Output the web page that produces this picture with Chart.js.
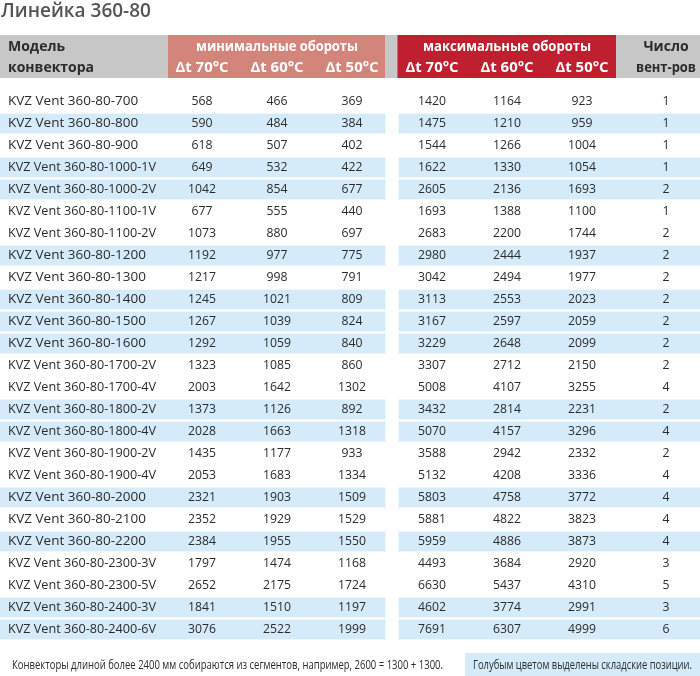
<!DOCTYPE html>
<html>
<head>
<meta charset="utf-8">
<script src="https://cdn.jsdelivr.net/npm/chart.js@4.4.1/dist/chart.umd.min.js"></script>
<style>
html,body{margin:0;padding:0;background:#fff;}
#wrap{position:relative;width:700px;height:676px;}
</style>
</head>
<body>
<div id="wrap"><canvas id="c"></canvas></div>
<script>
// ---------- DATA ----------
const title = 'Линейка 360-80';
const models = [
  'KVZ Vent 360-80-700','KVZ Vent 360-80-800','KVZ Vent 360-80-900','KVZ Vent 360-80-1000-1V',
  'KVZ Vent 360-80-1000-2V','KVZ Vent 360-80-1100-1V','KVZ Vent 360-80-1100-2V','KVZ Vent 360-80-1200',
  'KVZ Vent 360-80-1300','KVZ Vent 360-80-1400','KVZ Vent 360-80-1500','KVZ Vent 360-80-1600',
  'KVZ Vent 360-80-1700-2V','KVZ Vent 360-80-1700-4V','KVZ Vent 360-80-1800-2V','KVZ Vent 360-80-1800-4V',
  'KVZ Vent 360-80-1900-2V','KVZ Vent 360-80-1900-4V','KVZ Vent 360-80-2000','KVZ Vent 360-80-2100',
  'KVZ Vent 360-80-2200','KVZ Vent 360-80-2300-3V','KVZ Vent 360-80-2300-5V','KVZ Vent 360-80-2400-3V',
  'KVZ Vent 360-80-2400-6V'
];
const min70 = [568,590,618,649,1042,677,1073,1192,1217,1245,1267,1292,1323,2003,1373,2028,1435,2053,2321,2352,2384,1797,2652,1841,3076];
const min60 = [466,484,507,532,854,555,880,977,998,1021,1039,1059,1085,1642,1126,1663,1177,1683,1903,1929,1955,1474,2175,1510,2522];
const min50 = [369,384,402,422,677,440,697,775,791,809,824,840,860,1302,892,1318,933,1334,1509,1529,1550,1168,1724,1197,1999];
const max70 = [1420,1475,1544,1622,2605,1693,2683,2980,3042,3113,3167,3229,3307,5008,3432,5070,3588,5132,5803,5881,5959,4493,6630,4602,7691];
const max60 = [1164,1210,1266,1330,2136,1388,2200,2444,2494,2553,2597,2648,2712,4107,2814,4157,2942,4208,4758,4822,4886,3684,5437,3774,6307];
const max50 = [923,959,1004,1054,1693,1100,1744,1937,1977,2023,2059,2099,2150,3255,2231,3296,2332,3336,3772,3823,3873,2920,4310,2991,4999];
const fans  = [1,1,1,1,2,1,2,2,2,2,2,2,2,4,2,4,2,4,4,4,4,3,5,3,6];
const stock = [0,1,0,1,1,0,0,1,0,1,1,1,0,0,1,1,0,0,1,0,1,0,0,1,1];
const headModel = ['Модель','конвектора'];
const headMin = 'минимальные обороты';
const headMax = 'максимальные обороты';
const headFans = ['Число','вент-ров'];
const deltaLabels = ['Δt 70°C','Δt 60°C','Δt 50°C'];
const footLeft = 'Конвекторы длиной более 2400 мм собираются из сегментов, например, 2600 = 1300 + 1300.';
const footRight = 'Голубым цветом выделены складские позиции.';
</script>
<script>
// ---------- LAYOUT (x in scale units of a 0..700 linear axis) ----------
const L = {
  modelX: 8, colX: [202,277,352,432,507,582,666],
  minBox: [168,385], maxBox: [397.5,616], leftBand: [0,385.5], rightBand: [398.5,700],
  headTop: 35, headBot: 78, headLine1: 47, headLine2: 68,
  font: '"Open Sans", "Noto Sans", sans-serif'
};
const C = { text:'#2b2b2b', gray:'#c7c7c7', salmon:'#d3857b', red:'#c01f2f', blue:'#d5ebf9', title:'#555' };
const nums = [min70,min60,min50,max70,max60,max50,fans];
const rows = models.map((m,i)=>i);

const tablePlugin = {
  id:'tablePlugin',
  beforeDatasetsDraw(chart){
    const ctx = chart.ctx, xs = chart.scales.x, ys = chart.scales.y;
    const step = Math.abs(ys.getPixelForValue(1) - ys.getPixelForValue(0));
    ctx.save();
    const X = v => xs.getPixelForValue(v);
    // title
    ctx.fillStyle = C.title; ctx.font = '600 19px ' + L.font; ctx.textBaseline='middle'; ctx.textAlign='left';
    ctx.fillText(title, X(1), 12, 158);
    // header backgrounds
    ctx.fillStyle = C.gray; ctx.fillRect(X(0), L.headTop, X(700)-X(0), L.headBot-L.headTop);
    ctx.fillStyle = C.salmon; ctx.fillRect(X(L.minBox[0]), L.headTop, X(L.minBox[1])-X(L.minBox[0]), L.headBot-L.headTop);
    ctx.fillStyle = C.red; ctx.fillRect(X(L.maxBox[0]), L.headTop, X(L.maxBox[1])-X(L.maxBox[0]), L.headBot-L.headTop);
    // header text
    ctx.font = 'bold 14px ' + L.font;
    ctx.fillStyle = C.text; ctx.textAlign='left';
    ctx.fillText(headModel[0], X(L.modelX), L.headLine1);
    ctx.fillText(headModel[1], X(L.modelX), L.headLine2);
    ctx.textAlign='center';
    ctx.fillText(headFans[0], X(L.colX[6]), L.headLine1);
    ctx.fillText(headFans[1], X(L.colX[6]), L.headLine2, 60);
    ctx.fillStyle = '#fff';
    ctx.fillText(headMin, X(L.colX[1]), L.headLine1, 162);
    ctx.fillText(headMax, X(L.colX[4]), L.headLine1, 168);
    ctx.font = 'bold 15px ' + L.font;
    for (let k=0;k<3;k++){
      ctx.fillText(deltaLabels[k], X(L.colX[k]), L.headLine2, 53);
      ctx.fillText(deltaLabels[k], X(L.colX[k+3]), L.headLine2, 53);
    }
    // stock bands
    ctx.fillStyle = C.blue;
    rows.forEach(i=>{
      if(!stock[i]) return;
      const yc = ys.getPixelForValue(i), h = step - 2.2;
      ctx.fillRect(X(L.leftBand[0]), yc-h/2, X(L.leftBand[1])-X(L.leftBand[0]), h);
      ctx.fillRect(X(L.rightBand[0]), yc-h/2, X(L.rightBand[1])-X(L.rightBand[0]), h);
    });
    // model names
    ctx.fillStyle = C.text; ctx.font = '13.5px ' + L.font; ctx.textAlign='left';
    rows.forEach(i=>{ ctx.fillText(models[i], X(L.modelX), ys.getPixelForValue(i), 148); });
    // footer
    ctx.font = '13px ' + L.font; ctx.textAlign='left';
    ctx.fillText(footLeft, X(12), 665, 431);
    ctx.fillStyle = C.blue; ctx.fillRect(X(465), 653, X(700)-X(465), 23);
    ctx.fillStyle = C.text; ctx.textAlign='center';
    ctx.fillText(footRight, X(582.5), 665, 219);
    ctx.restore();
  },
  afterDatasetsDraw(chart){
    const ctx = chart.ctx;
    ctx.save();
    ctx.fillStyle = C.text; ctx.font = '13.5px ' + L.font; ctx.textAlign='center'; ctx.textBaseline='middle';
    chart.data.datasets.forEach((ds,j)=>{
      chart.getDatasetMeta(j).data.forEach((pt,i)=>{
        const v = ds.data[i].v;
        ctx.fillText(String(v), pt.x, pt.y, String(v).length*7);
      });
    });
    ctx.restore();
  }
};

const datasets = nums.map((arr,j)=>({
  label: 'col'+j,
  data: arr.map((v,i)=>({x: L.colX[j], y: models[i], v})),
  pointRadius: 0, pointHoverRadius: 0, showLine:false
}));

new Chart(document.getElementById('c'), {
  type:'scatter',
  data:{ datasets },
  options:{
    responsive:true, maintainAspectRatio:false, animation:false,
    layout:{ padding:{ top:90.5, bottom:35.5, left:0, right:0 } },
    plugins:{ legend:{display:false}, tooltip:{enabled:false} },
    scales:{
      x:{ type:'linear', min:0, max:700, display:false },
      y:{ type:'category', labels: models, offset:true, display:false }
    }
  },
  plugins:[tablePlugin]
});
</script>
</body>
</html>
